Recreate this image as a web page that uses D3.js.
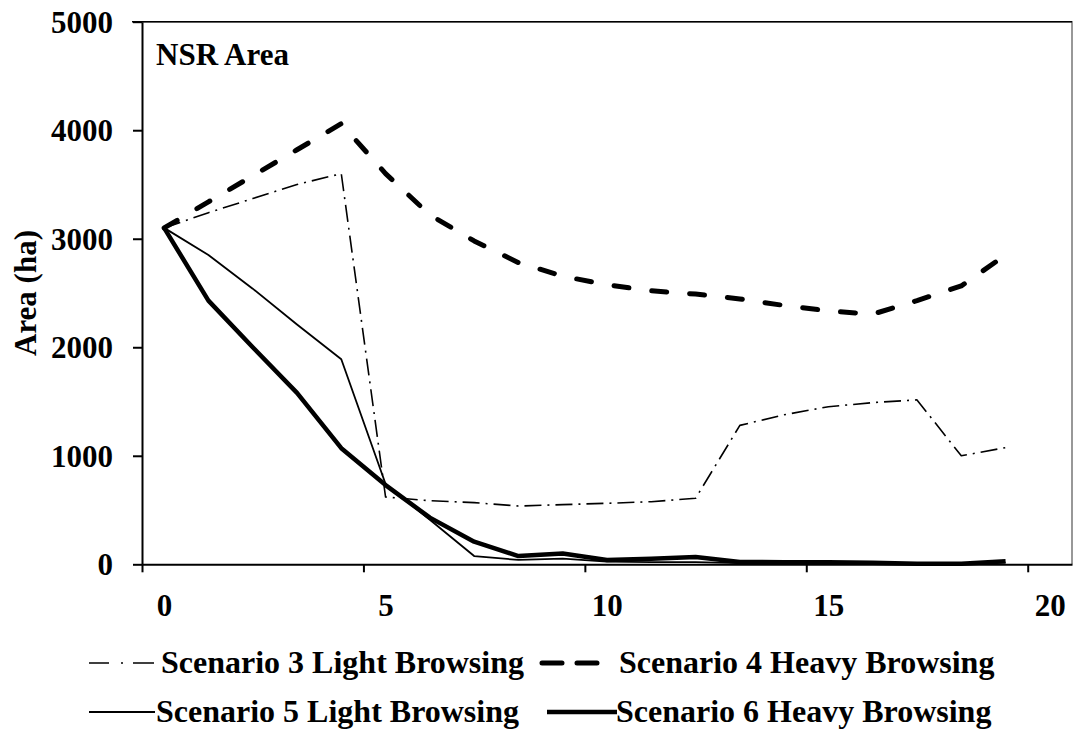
<!DOCTYPE html>
<html>
<head>
<meta charset="utf-8">
<script src="https://cdn.jsdelivr.net/npm/d3@7"></script>
<style>
  html, body { margin: 0; padding: 0; background: #fff; }
  svg { display: block; font-family: "Liberation Serif", "Times New Roman", serif; font-weight: bold; }
</style>
</head>
<body>
<svg id="chart" width="1073" height="731"></svg>
<script>
// Time steps (x) and NSR area (ha) per scenario
const steps = [0.5, 1.5, 2.5, 3.5, 4.5, 5.5, 6.5, 7.5, 8.5, 9.5, 10.5, 11.5, 12.5, 13.5, 14.5, 15.5, 16.5, 17.5, 18.5, 19.5];
const scenario3 = [3100, 3240, 3370, 3500, 3600, 620, 586, 568, 537, 550, 562, 577, 608, 1280, 1378, 1452, 1490, 1515, 1000, 1075];
const scenario4 = [3100, 3340, 3580, 3820, 4060, 3600, 3220, 2980, 2780, 2655, 2575, 2520, 2490, 2445, 2385, 2335, 2305, 2430, 2565, 2850];
const scenario5 = [3100, 2850, 2540, 2210, 1890, 740, 410, 76, 40, 52, 25, 20, 20, 10, 10, 10, 10, 5, 5, 15];
const scenario6 = [3100, 2430, 2000, 1580, 1070, 730, 430, 208, 76, 100, 40, 50, 68, 22, 20, 20, 15, 5, 5, 28];

const xTicks = [0, 5, 10, 15, 20];
const yTicks = [0, 1000, 2000, 3000, 4000, 5000];
const seriesNames = ["Scenario 3 Light Browsing", "Scenario 4 Heavy Browsing", "Scenario 5 Light Browsing", "Scenario 6 Heavy Browsing"];

const series = [
  { name: seriesNames[0], values: scenario3, width: 1.6, dash: "17,6,2,6", legendDash: "20,12,2,10,21", cap: "butt" },
  { name: seriesNames[1], values: scenario4, width: 5, dash: "15,23", legendDash: "20,15", cap: "round" },
  { name: seriesNames[2], values: scenario5, width: 1.8, dash: null, legendDash: null, cap: "butt" },
  { name: seriesNames[3], values: scenario6, width: 4.5, dash: null, legendDash: null, cap: "butt" }
];

const svg = d3.select("#chart");
const plotLeft = 142, plotRight = 1072, plotTop = 21.7, plotBottom = 564.3;

const x = d3.scaleLinear().domain([0, 21]).range([plotLeft, plotRight]);
const y = d3.scaleLinear().domain([0, 5000]).range([plotBottom, plotTop]);

// plot area frame (top and right edges)
svg.append("path")
  .attr("d", `M${plotLeft},${plotTop}H${plotRight}V${plotBottom}`)
  .attr("fill", "none")
  .attr("stroke", "#777")
  .attr("stroke-width", 1.5);
svg.append("line")
  .attr("x1", plotLeft - 10).attr("x2", plotRight)
  .attr("y1", plotTop).attr("y2", plotTop)
  .attr("stroke", "#000").attr("stroke-width", 1.5);

// series lines
const line = d3.line().x((d, i) => x(steps[i])).y(d => y(d));
series.forEach(s => {
  svg.append("path")
    .datum(s.values)
    .attr("d", line)
    .attr("fill", "none")
    .attr("stroke", "#000")
    .attr("stroke-width", s.width)
    .attr("stroke-linejoin", "round")
    .attr("stroke-linecap", s.cap)
    .attr("stroke-dasharray", s.dash);
});

// axes
const xAxis = svg.append("g")
  .attr("transform", `translate(0,${plotBottom})`)
  .call(d3.axisBottom(x).tickValues(xTicks).tickSize(8).tickSizeOuter(0).tickFormat(d3.format("d")));
xAxis.selectAll("text")
  .attr("x", 22).attr("y", 52).attr("dy", 0)
  .attr("font-size", 31).attr("font-weight", "bold")
  .attr("font-family", "Liberation Serif, Times New Roman, serif").attr("fill", "#000");

const yAxis = svg.append("g")
  .attr("transform", `translate(${plotLeft},0)`)
  .call(d3.axisLeft(y).tickValues(yTicks).tickSize(9).tickSizeOuter(0).tickFormat(d3.format("d")));
yAxis.selectAll("text")
  .attr("x", -29).attr("dy", "0.34em")
  .attr("font-size", 31).attr("font-weight", "bold")
  .attr("font-family", "Liberation Serif, Times New Roman, serif").attr("fill", "#000");

[xAxis, yAxis].forEach(g => {
  g.select(".domain").attr("stroke", "#000").attr("stroke-width", 2);
  g.selectAll(".tick line").attr("stroke", "#000").attr("stroke-width", 2);
});

// panel title and axis title
svg.append("text")
  .attr("x", 156).attr("y", 65)
  .attr("font-size", 31)
  .text("NSR Area");

svg.append("text")
  .attr("transform", "translate(36,293) rotate(-90)")
  .attr("text-anchor", "middle")
  .attr("font-size", 31)
  .text("Area (ha)");

// legend, two rows of two entries
const legendItems = [
  { s: series[0], lx1: 89, lx2: 154, tx: 161, ty: 673 },
  { s: series[1], lx1: 542, lx2: 603, tx: 619, ty: 673 },
  { s: series[2], lx1: 89, lx2: 155, tx: 156, ty: 722 },
  { s: series[3], lx1: 547, lx2: 617, tx: 616, ty: 722 }
];
legendItems.forEach(it => {
  svg.append("line")
    .attr("x1", it.lx1).attr("x2", it.lx2)
    .attr("y1", it.ty - 10).attr("y2", it.ty - 10)
    .attr("stroke", "#000")
    .attr("stroke-width", it.s.width)
    .attr("stroke-linecap", it.s.cap)
    .attr("stroke-dasharray", it.s.legendDash);
  svg.append("text")
    .attr("x", it.tx).attr("y", it.ty)
    .attr("font-size", 32)
    .text(it.s.name);
});
</script>
</body>
</html>
